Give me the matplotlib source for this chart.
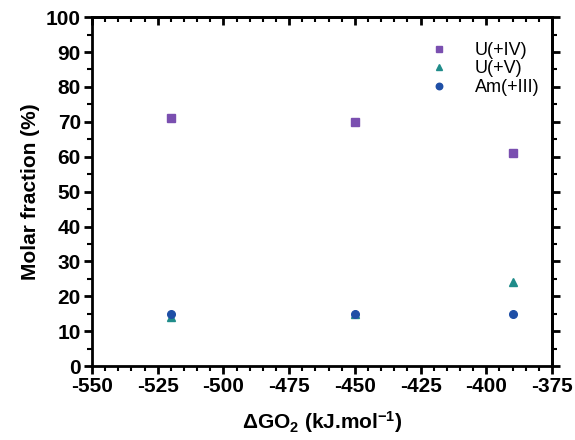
import numpy as np
import matplotlib.pyplot as plt
from matplotlib.ticker import MultipleLocator

plt.rcParams['font.family'] = ['Liberation Sans', 'DejaVu Sans']
plt.rcParams['axes.unicode_minus'] = False
plt.rcParams['mathtext.fontset'] = 'custom'
plt.rcParams['mathtext.rm'] = 'Liberation Sans:bold'
plt.rcParams['mathtext.bf'] = 'Liberation Sans:bold'
plt.rcParams['mathtext.default'] = 'bf'

dg = [-520, -450, -390]
u4 = [71, 70, 61]
u5 = [14, 15, 24]
am3 = [15, 15, 15]

fig = plt.figure(figsize=(5.75, 4.4), dpi=100)
ax = fig.add_axes([0.16, 0.168, 0.80, 0.793])

ax.plot(dg, u4, 's', color='#7a4fb0', ms=5.5, label='U(+IV)')
ax.plot(dg, u5, '^', color='#1f8c8a', ms=5.5, label='U(+V)')
ax.plot(dg, am3, 'o', color='#1f4fa6', ms=5.5, label='Am(+III)')

ax.set_xlim(-550, -375)
ax.set_ylim(0, 100)
ax.xaxis.set_major_locator(MultipleLocator(25))
ax.xaxis.set_minor_locator(MultipleLocator(5))
ax.yaxis.set_major_locator(MultipleLocator(10))
ax.yaxis.set_minor_locator(MultipleLocator(5))

for s in ax.spines.values():
    s.set_linewidth(2)
ax.tick_params(which='major', direction='out', length=6, width=2, labelsize=15, pad=2)
ax.tick_params(which='minor', direction='out', length=3.5, width=1.5)
for lab in ax.get_xticklabels() + ax.get_yticklabels():
    lab.set_fontweight('bold')

# mirrored ticks on top (inward) and right (outward)
top = ax.secondary_xaxis('top')
top.xaxis.set_major_locator(MultipleLocator(25))
top.xaxis.set_minor_locator(MultipleLocator(5))
top.tick_params(which='major', direction='in', length=6, width=2, labeltop=False)
top.tick_params(which='minor', direction='in', length=3.5, width=1.5)
right = ax.secondary_yaxis('right')
right.yaxis.set_major_locator(MultipleLocator(10))
right.yaxis.set_minor_locator(MultipleLocator(5))
right.tick_params(which='major', direction='out', length=6, width=2, labelright=False)
right.tick_params(which='minor', direction='out', length=3.5, width=1.5)
top.spines['top'].set_linewidth(2)
right.spines['right'].set_linewidth(2)

ax.set_xlabel(r'$\Delta$GO$_2$ (kJ.mol$^{-1}$)', fontsize=15, fontweight='bold', labelpad=9)
ax.set_ylabel('Molar fraction (%)', fontsize=15, fontweight='bold', labelpad=4)

ax.legend(loc='upper right', bbox_to_anchor=(1.0, 0.965), frameon=False, fontsize=13,
          handletextpad=1.0, borderaxespad=0.3, labelspacing=0.08, markerscale=0.85)

fig.savefig('out.png', dpi=100)
